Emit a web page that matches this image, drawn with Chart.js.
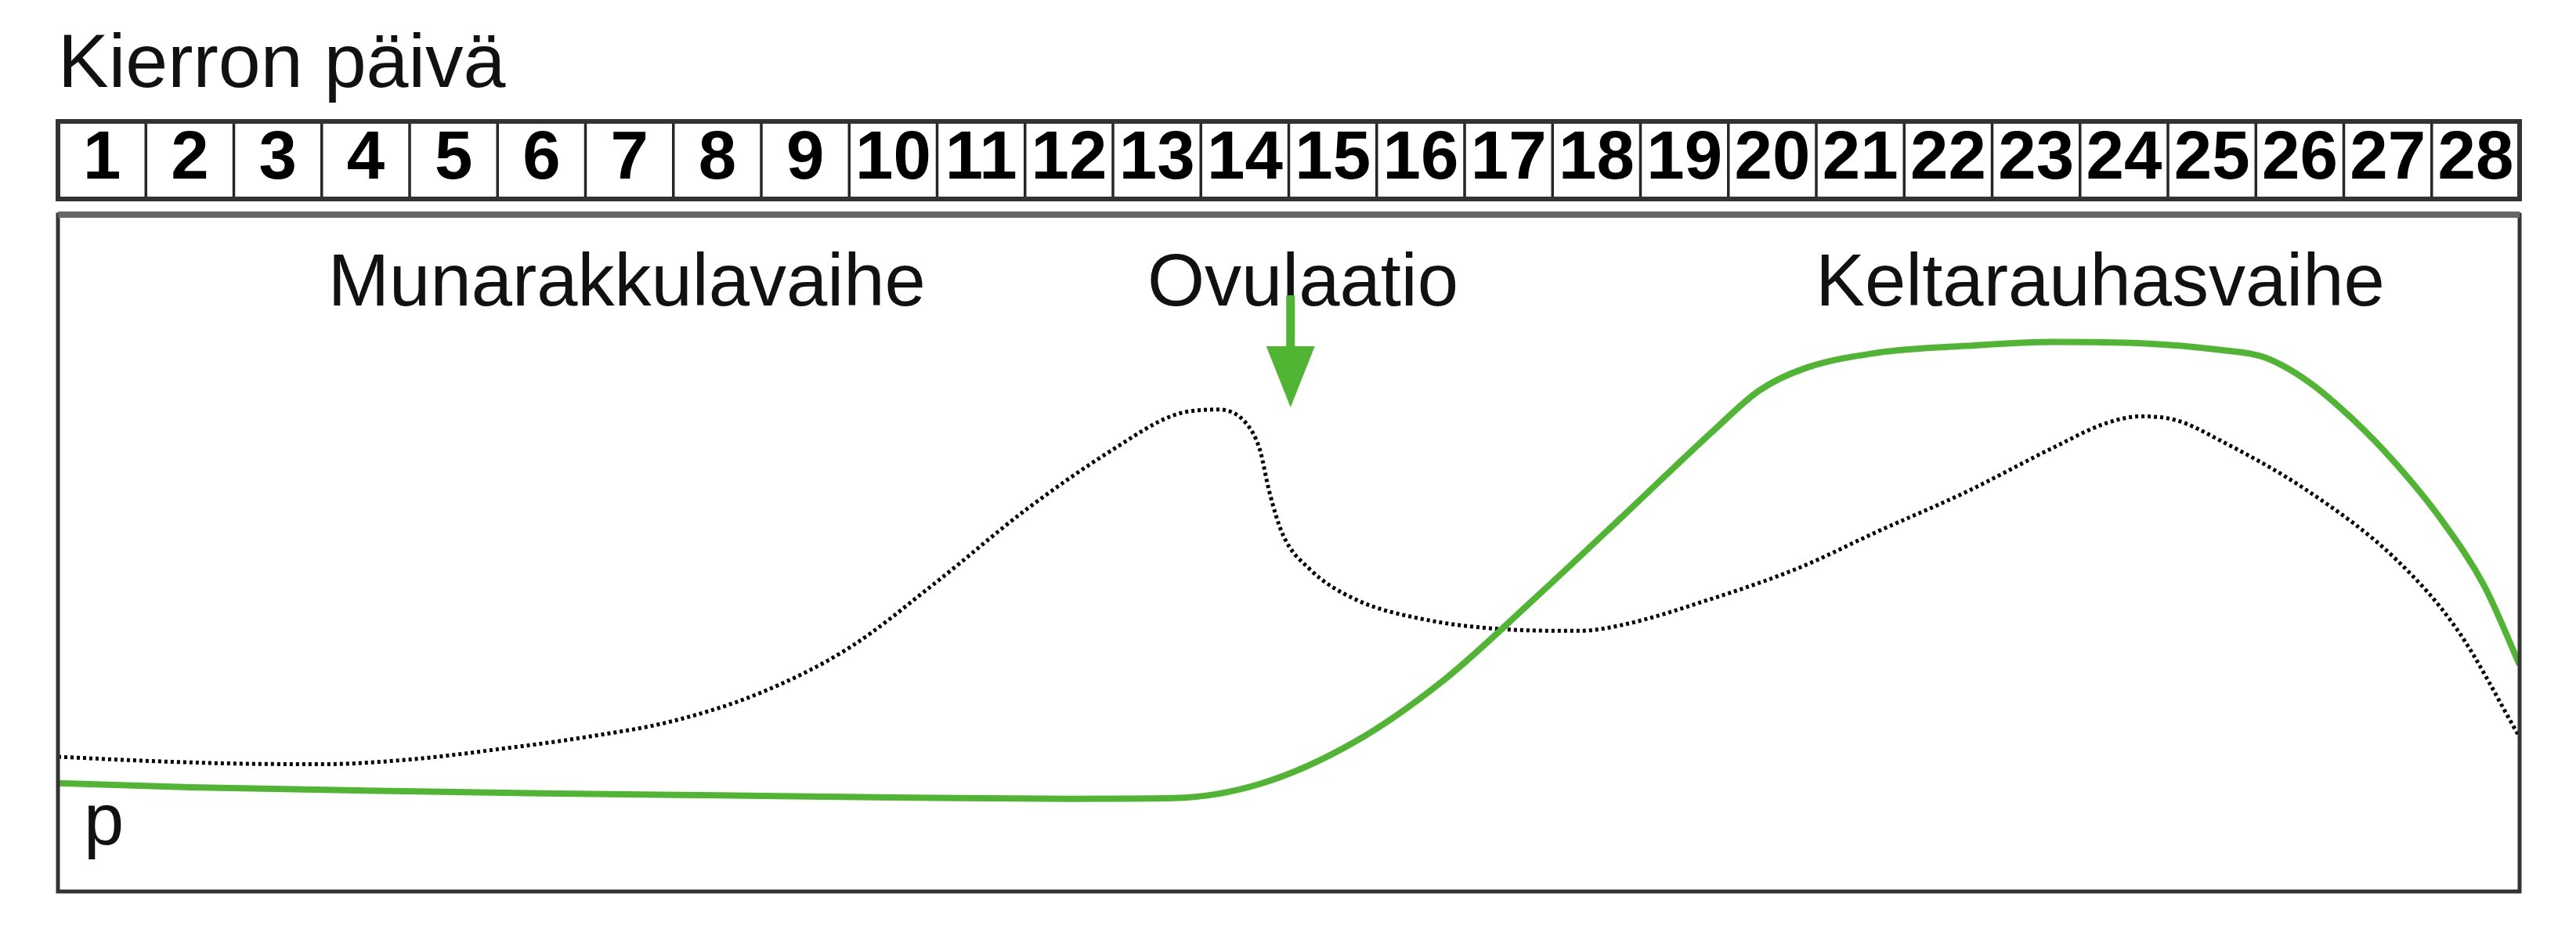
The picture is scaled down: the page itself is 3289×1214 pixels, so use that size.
<!DOCTYPE html>
<html>
<head>
<meta charset="utf-8">
<script src="https://cdn.jsdelivr.net/npm/chart.js@4.4.1/dist/chart.umd.min.js"></script>
<style>
  html, body { margin: 0; padding: 0; background: #fff; }
  #wrap { width: 3289px; height: 1214px; }
</style>
</head>
<body>
<div id="wrap"><canvas id="kierto"></canvas></div>
<script>
// ================= DATA (luettu kuvasta) =================
const days = [1, 2, 3, 4, 5, 6, 7, 8, 9, 10, 11, 12, 13, 14,
              15, 16, 17, 18, 19, 20, 21, 22, 23, 24, 25, 26, 27, 28];
const otsikko = 'Kierron päivä';
const vaiheet = ['Munarakkulavaihe', 'Ovulaatio', 'Keltarauhasvaihe'];
const vaiheKohdat = [6.97, 14.66, 23.73];   // päivä, jonka kohdalla teksti on keskellä
const ovulaatioPaiva = 14.52;

// pisteviiva (musta)
const mustaX = [0.5, 1.5, 2.5, 3.5, 4.5, 5.5, 6.5, 7.5, 8.5, 9.5, 10.5, 11.5, 12.5, 13.2,
                13.7, 14.02, 14.17, 14.28, 14.43, 14.74, 15.25, 16, 17, 17.8, 18.3, 19.3,
                20.3, 21.2, 22.2, 23.2, 23.8, 24.2, 24.6, 25.1, 26.1, 27.1, 27.8, 28.5];
const mustaY = [19.9, 19.3, 18.9, 18.8, 19.5, 21.0, 22.8, 25.2, 29.4, 36.0, 45.8, 56.3, 65.3, 70.4,
                71.2, 69.1, 65.3, 59.0, 52.8, 47.6, 43.2, 40.3, 38.7, 38.5, 39.4, 43.2,
                47.8, 53.2, 59.0, 65.6, 69.2, 70.2, 69.6, 66.6, 59.1, 49.0, 38.5, 22.8];

// yhtenäinen viiva (vihreä)
const vihreaX = [0.5, 2, 4, 6, 8, 10, 12, 13.2, 14.2, 15.25, 16.27, 17.29, 18.32, 19.34, 19.85,
                 20.37, 21.2, 22.2, 23.2, 24.2, 25.1, 25.6, 26.1, 26.6, 27.1, 27.6, 28.1, 28.5];
const vihreaY = [16.0, 15.4, 14.9, 14.5, 14.2, 13.9, 13.7, 13.8, 16.0, 22.1, 31.3, 43.2, 55.7, 68.2, 74.0,
                 77.3, 79.6, 80.6, 81.2, 81.0, 80.0, 78.9, 75.3, 69.8, 63.1, 55.1, 45.1, 33.5];

const VIHREA = '#4fb532';
const FONT = '"Liberation Sans", Arial, Helvetica, sans-serif';

// laatikot, tekstit ja nuoli
const kehys = {
    id: 'kehys',
    afterDraw(chart) {
        const { ctx, chartArea: a, scales: { x } } = chart;
        ctx.save();

        // päivänumeroiden rivi
        const sTop = a.top - 119, sBottom = a.top - 20;
        ctx.strokeStyle = '#262626';
        ctx.lineWidth = 3.5;
        for (let i = 1; i < days.length; i++) {
            const px = x.getPixelForValue(days[i] - 0.5);
            ctx.beginPath();
            ctx.moveTo(px, sTop);
            ctx.lineTo(px, sBottom);
            ctx.stroke();
        }
        ctx.lineWidth = 6;
        ctx.strokeStyle = '#333';
        ctx.strokeRect(a.left, sTop, a.right - a.left, sBottom - sTop);

        // kuvaajan kehys
        ctx.lineWidth = 5;
        ctx.strokeStyle = '#333';
        ctx.strokeRect(a.left, a.top, a.right - a.left, a.bottom - a.top);
        ctx.lineWidth = 8;
        ctx.strokeStyle = '#666';
        ctx.beginPath();
        ctx.moveTo(a.left, a.top);
        ctx.lineTo(a.right, a.top);
        ctx.stroke();

        // vaiheiden nimet
        ctx.font = '94px ' + FONT;
        ctx.fillStyle = '#111';
        ctx.textAlign = 'center';
        ctx.textBaseline = 'alphabetic';
        vaiheet.forEach((t, i) => ctx.fillText(t, x.getPixelForValue(vaiheKohdat[i]), a.top + 116));

        ctx.font = '92px ' + FONT;
        ctx.textAlign = 'left';
        ctx.fillText('p', a.left + 33, a.bottom - 60);

        // ovulaation nuoli
        const ax = x.getPixelForValue(ovulaatioPaiva);
        ctx.fillStyle = VIHREA;
        ctx.fillRect(ax - 5.5, a.top + 103, 11, 70);
        ctx.beginPath();
        ctx.moveTo(ax - 31, a.top + 168);
        ctx.lineTo(ax + 31, a.top + 168);
        ctx.lineTo(ax, a.top + 246);
        ctx.closePath();
        ctx.fill();

        ctx.restore();
    }
};

new Chart(document.getElementById('kierto'), {
    type: 'line',
    data: {
        datasets: [{
            data: vihreaX.map((d, i) => ({ x: d, y: vihreaY[i] })),
            borderColor: VIHREA,
            borderWidth: 8,
            pointRadius: 0,
            cubicInterpolationMode: 'monotone',
            fill: false
        }, {
            data: mustaX.map((d, i) => ({ x: d, y: mustaY[i] })),
            borderColor: '#000',
            borderWidth: 5,
            borderDash: [4, 4],
            borderCapStyle: 'butt',
            pointRadius: 0,
            cubicInterpolationMode: 'monotone',
            fill: false
        }]
    },
    options: {
        responsive: true, maintainAspectRatio: false,
        devicePixelRatio: 1,
        animation: false,
        layout: { padding: { left: 74, right: 72, top: 0, bottom: 76 } },
        plugins: {
            legend: { display: false },
            tooltip: { enabled: false },
            title: {
                display: true,
                text: otsikko,
                align: 'start',
                color: '#111',
                font: { family: FONT, size: 97, weight: 'normal' },
                padding: { top: 26, bottom: 10 }
            }
        },
        scales: {
            x: {
                type: 'linear',
                position: 'top',
                min: 0.5, max: 28.5,
                afterBuildTicks: s => { s.ticks = days.map(d => ({ value: d })); },
                afterFit: s => { s.height = 121.6; },
                grid: { display: false, drawTicks: false },
                border: { display: false },
                ticks: {
                    autoSkip: false, maxRotation: 0, padding: 18,
                    color: '#000',
                    font: { family: FONT, size: 87, weight: 'bold' }
                }
            },
            y: {
                display: false,
                min: 0, max: 100
            }
        }
    },
    plugins: [kehys]
});
</script>
</body>
</html>
